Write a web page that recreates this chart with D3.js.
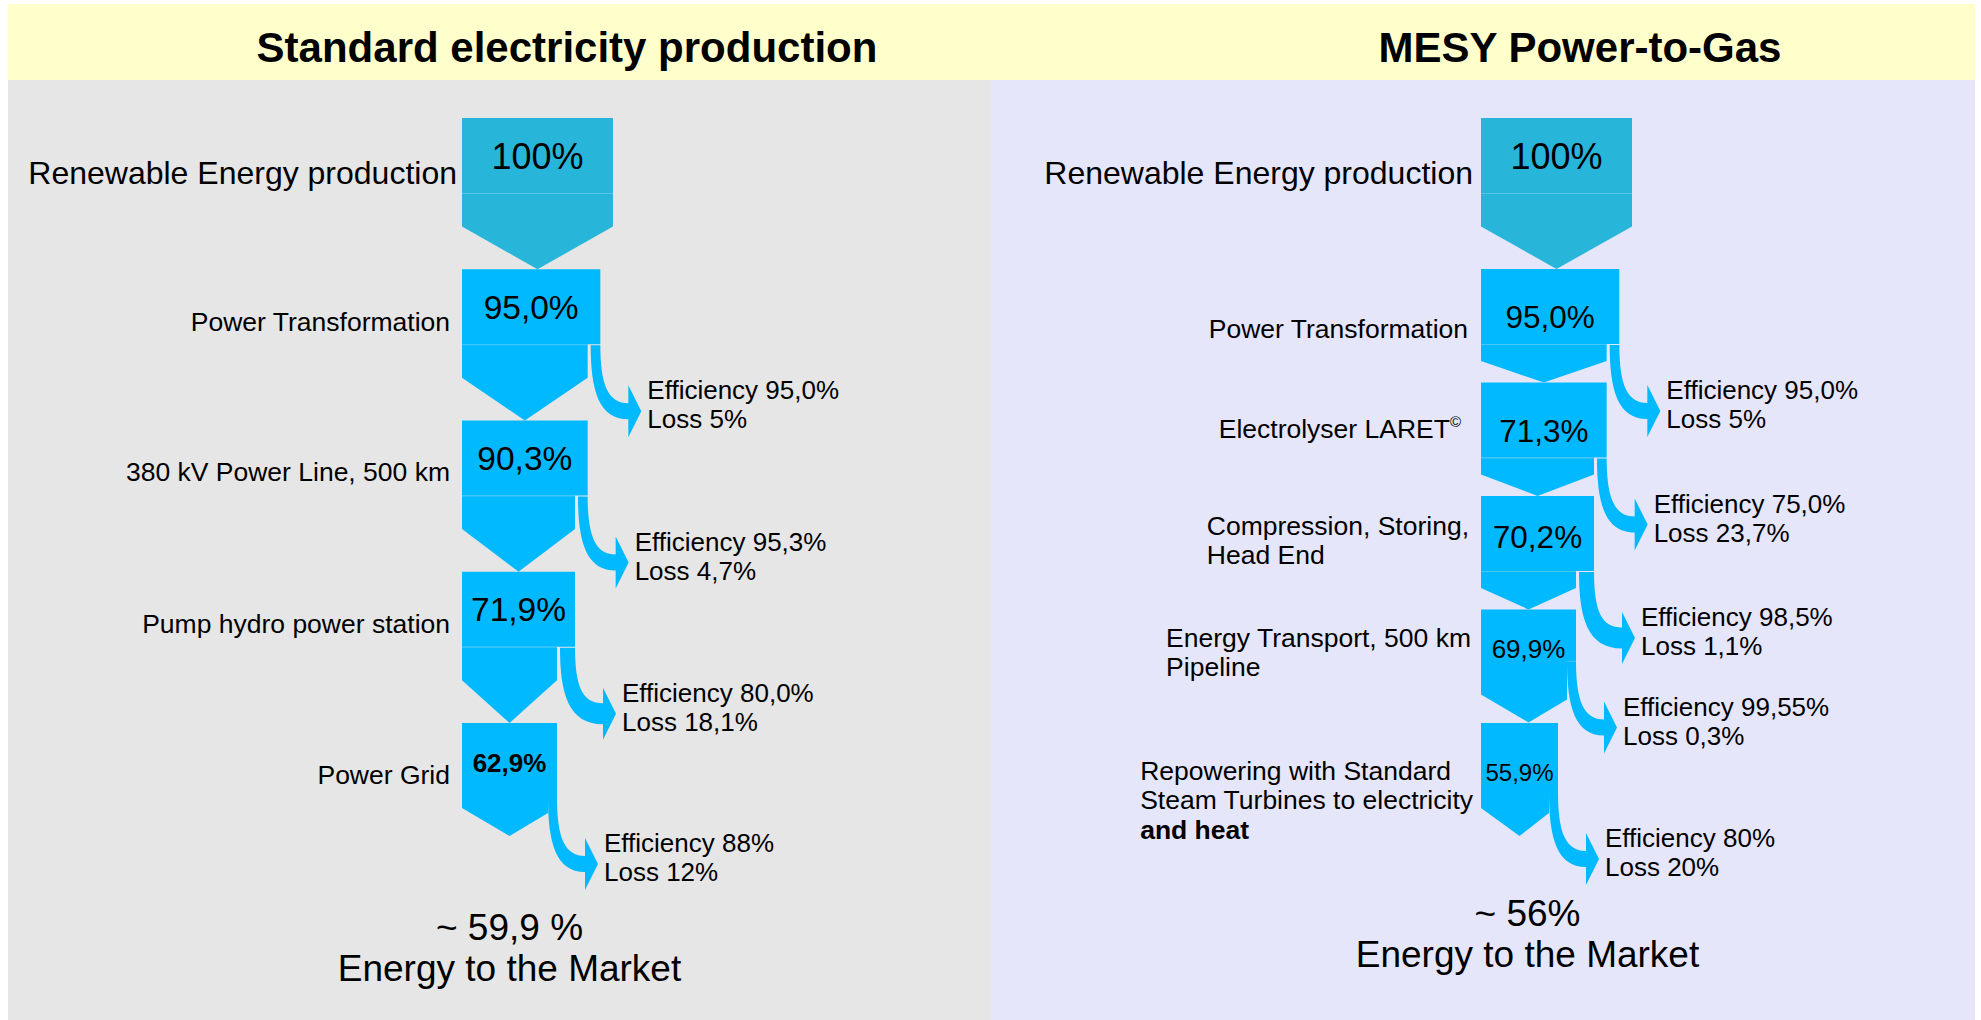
<!DOCTYPE html>
<html>
<head>
<meta charset="utf-8">
<script src="https://cdn.jsdelivr.net/npm/d3@7"></script>
<style>
  body { margin: 0; background: #fff; }
  svg { display: block; font-family: "Liberation Sans", Arial, sans-serif; }
</style>
</head>
<body>
<script>
const w = 1981;
const h = 1020;

// ---- data ----
const leftTitle = "Standard electricity production";
const leftSteps = [
	["Renewable Energy production"],
	["Power Transformation"],
	["380 kV Power Line, 500 km"],
	["Pump hydro power station"],
	["Power Grid"],
];
const leftShares = ["100%", "95,0%", "90,3%", "71,9%", "62,9%"];
const leftEfficiency = [null, "95,0%", "95,3%", "80,0%", "88%"];
const leftLoss = [null, "5%", "4,7%", "18,1%", "12%"];
const leftResult = "~ 59,9 %";

const rightTitle = "MESY Power-to-Gas";
const rightSteps = [
	["Renewable Energy production"],
	["Power Transformation"],
	["Electrolyser LARET©"],
	["Compression, Storing,", "Head End"],
	["Energy Transport, 500 km", "Pipeline"],
	["Repowering with Standard", "Steam Turbines to electricity", "and heat"],
];
const rightShares = ["100%", "95,0%", "71,3%", "70,2%", "69,9%", "55,9%"];
const rightEfficiency = [null, "95,0%", "75,0%", "98,5%", "99,55%", "80%"];
const rightLoss = [null, "5%", "23,7%", "1,1%", "0,3%", "20%"];
const rightResult = "~ 56%";

const resultCaption = "Energy to the Market";
const boldLines = new Set(["and heat"]);

// ---- layout / style ----
const rectH = 75;
const solidBand = 9;
const widthScale = d3.scaleLinear().domain([0, 3, 5]).range([151, 113, 77]);

const panels = [
	{
		title: leftTitle, steps: leftSteps, shares: leftShares,
		eff: leftEfficiency, loss: leftLoss, result: leftResult,
		bg: "#e6e6e6", bgX: [8, 991], titleX: 567,
		x0: 462,
		y: d3.scaleLinear().domain([0, 4]).range([118, 723]),
		solidFrom: 4,
		shareSize: [36, 33.5, 33.5, 33.5, 26],
		shareWeight: ["normal", "normal", "normal", "normal", "bold"],
		shareDy: [51, 50, 49.5, 49.5, 48.5],
		labelDy: [66, 62, 60, 61, 60.5],
		labelGap: [5, 12, 12, 12, 12],
		lossDy: [0, 75, 75, 75, 75],
		resultDx: 0, resultDy: 104,
	},
	{
		title: rightTitle, steps: rightSteps, shares: rightShares,
		eff: rightEfficiency, loss: rightLoss, result: rightResult,
		bg: "#e6e6fa", bgX: [991, 1975], titleX: 1580,
		x0: 1481,
		y: d3.scaleLinear().domain([0, 1, 5]).range([118, 269, 723]),
		solidFrom: 4,
		shareSize: [36, 31.5, 31.5, 31.5, 26, 24],
		shareWeight: ["normal", "normal", "normal", "normal", "normal", "normal"],
		shareDy: [51, 59, 59, 52, 48, 58],
		labelDy: [66, 69, 55, 38.5, 37, 56.5],
		labelGap: [8, 13, 20, 12, 10, 8],
		lossDy: [0, 75, 75, 75, 52, 70],
		resultDx: 8, resultDy: 90,
	},
];

const svg = d3
	.select("body")
	.append("svg")
	.attr("width", w)
	.attr("height", h);

// backgrounds
panels.forEach((p) => {
	svg
		.append("rect")
		.attr("x", p.bgX[0])
		.attr("y", 80)
		.attr("width", p.bgX[1] - p.bgX[0])
		.attr("height", h - 80)
		.attr("fill", p.bg);
});

// header band
svg
	.append("rect")
	.attr("x", 8)
	.attr("y", 4)
	.attr("width", 1967)
	.attr("height", 76)
	.attr("fill", "#ffffcc");

// curved loss arrow leaving the right part of a block
const lossPath = (xa, xb, y0) => {
	const tipX = xb + 41;
	const tipY = y0 + 66;
	const backX = xb + 28;
	const n = Math.max((xb - xa) / 2, 5) + 3;
	const path = d3.path();
	path.moveTo(xb, y0);
	path.bezierCurveTo(xb, y0 + 40, xb + 8, tipY - n, backX, tipY - n);
	path.lineTo(backX, tipY - 26);
	path.lineTo(tipX, tipY);
	path.lineTo(backX, tipY + 26);
	path.lineTo(backX, tipY + n);
	path.bezierCurveTo(xa + 8, tipY + n, xa, y0 + 45, xa, y0);
	path.closePath();
	return { d: path.toString(), tipX, tipY };
};

const line = d3.line();

panels.forEach((p) => {
	const g = svg.append("g");

	g.append("text")
		.attr("x", p.titleX)
		.attr("y", 62)
		.attr("text-anchor", "middle")
		.attr("font-size", 42)
		.attr("font-weight", "bold")
		.text(p.title);

	let lastEnd = 0;

	p.shares.forEach((share, i) => {
		const top = p.y(i);
		const bw = widthScale(i);
		const x0 = p.x0;
		const fill = i === 0 ? "#27b6da" : "#00b9ff";
		const divColor = i === 0 ? "#55c6e3" : "#45c8f8";
		const hasLoss = p.loss[i] != null;
		let loss = null;

		if (i < p.solidFrom) {
			const div = top + rectH;
			const next = p.y(i + 1);
			const lw = hasLoss ? widthScale(i + 1) : bw;
			const sh = div + 0.44 * (next - div);

			g.append("rect")
				.attr("x", x0)
				.attr("y", top)
				.attr("width", bw)
				.attr("height", rectH)
				.attr("fill", fill);

			g.append("path")
				.attr("d", line([[x0, div], [x0 + lw, div], [x0 + lw, sh], [x0 + lw / 2, next], [x0, sh]]) + "Z")
				.attr("fill", fill);

			g.append("line")
				.attr("x1", x0)
				.attr("x2", x0 + lw)
				.attr("y1", div + 0.5)
				.attr("y2", div + 0.5)
				.attr("stroke", divColor)
				.attr("stroke-width", 1);

			if (hasLoss) loss = lossPath(x0 + lw + 3, x0 + bw, div + 1);
			lastEnd = next;
		} else {
			const ly = top + p.lossDy[i];
			const end = top + 113;
			const lw = bw - solidBand;
			g.append("path")
				.attr("d", line([
					[x0, top], [x0 + bw, top], [x0 + bw, ly], [x0 + lw, ly],
					[x0 + lw, top + 90], [x0 + bw / 2, end], [x0, top + 85],
				]) + "Z")
				.attr("fill", fill);
			if (hasLoss) loss = lossPath(x0 + lw, x0 + bw, ly);
			lastEnd = end;
		}

		if (loss) {
			g.append("path").attr("d", loss.d).attr("fill", "#00b9ff");
			const lt = g.append("text")
				.attr("font-size", 26)
				.attr("y", loss.tipY - 12);
			lt.append("tspan").attr("x", loss.tipX + 6).text(`Efficiency ${p.eff[i]}`);
			lt.append("tspan").attr("x", loss.tipX + 6).attr("dy", 29).text(`Loss ${p.loss[i]}`);
		}

		// share inside the block
		g.append("text")
			.attr("x", x0 + bw / 2)
			.attr("y", top + p.shareDy[i])
			.attr("text-anchor", "middle")
			.attr("font-size", p.shareSize[i])
			.attr("font-weight", p.shareWeight[i])
			.text(share);

		// step label, left aligned block whose right edge sits before the bar
		const anchor = x0 - p.labelGap[i];
		const label = g.append("text")
			.attr("font-size", i === 0 ? 32 : 26.5)
			.attr("y", top + p.labelDy[i]);
		const heads = [];
		let maxW = 0;
		p.steps[i].forEach((txt, k) => {
			const parts = txt.split("©");
			const head = label.append("tspan")
				.attr("dy", k ? 29.5 : 0)
				.attr("font-weight", boldLines.has(txt) ? "bold" : null)
				.text(parts[0]);
			let lw = head.node().getComputedTextLength();
			if (parts.length > 1) {
				const sup = label.append("tspan")
					.attr("font-size", 15)
					.attr("dy", -11)
					.text("©");
				lw += sup.node().getComputedTextLength();
			}
			heads.push(head);
			maxW = Math.max(maxW, lw);
		});
		heads.forEach((hd) => hd.attr("x", anchor - maxW));
	});

	const cx = p.x0 + widthScale(p.shares.length - 1) / 2 + p.resultDx;
	g.append("text")
		.attr("x", cx)
		.attr("y", lastEnd + p.resultDy)
		.attr("text-anchor", "middle")
		.attr("font-size", 37)
		.text(p.result);
	g.append("text")
		.attr("x", cx)
		.attr("y", lastEnd + p.resultDy + 41)
		.attr("text-anchor", "middle")
		.attr("font-size", 37)
		.text(resultCaption);
});
</script>
</body>
</html>
